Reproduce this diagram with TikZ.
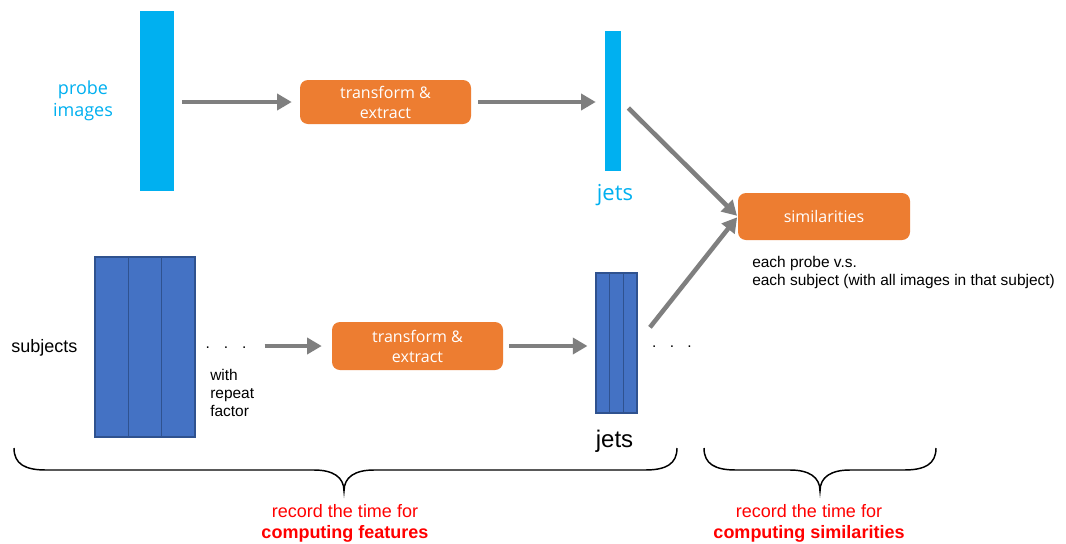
\documentclass[tikz,border=0pt]{standalone}
\usepackage{fontspec}
\usetikzlibrary{arrows.meta,calc}
\newfontfamily\arialfont{Liberation Sans}
\newfontfamily\uifont{Open Sans}
\definecolor{cyanbar}{HTML}{00B0F0}
\definecolor{blockblue}{HTML}{4472C4}
\definecolor{blockedge}{HTML}{2F528F}
\definecolor{boxorange}{HTML}{ED7D31}
\definecolor{arrowgray}{HTML}{7F7F7F}
\definecolor{notered}{HTML}{FF0000}

\begin{document}
\begin{tikzpicture}[x=0.75pt,y=-0.75pt,
  cyanbox/.style={fill=cyanbar, draw=none, inner sep=0pt, minimum width=#1},
  bluebox/.style={fill=blockblue, draw=blockedge, line width=0.8pt, inner sep=0pt},
  procbox/.style={fill=boxorange, draw=none, rounded corners=6pt, inner sep=0pt,
    text=white, align=center, font=\uifont\fontsize{12}{15}\selectfont},
  arr/.style={draw=arrowgray, line width=3.4pt,
    -{Triangle[length=11pt,width=12pt]}},
  txt/.style={inner sep=0pt, font=\arialfont\fontsize{11.6}{13.5}\selectfont},
  rednote/.style={inner sep=0pt, text=notered, align=center,
    font=\arialfont\fontsize{13.5}{15.75}\selectfont},
  bracepath/.style={draw=black, line width=1.1pt}
]
\useasboundingbox (0,0) rectangle (1066,543);
\fill[white] (0,0) rectangle (1066,543);

% upper row: probe images
\node[cyanbox=25.5pt, minimum height=135pt] (probe) at (157,101) {};
\node[inner sep=0pt, text=cyanbar, align=center,
  font=\uifont\fontsize{13.5}{16.5}\selectfont] (probelbl) at (83,101) {probe\\images};
\node[procbox, minimum width=128.25pt, minimum height=33pt] (t1) at (385.5,102) {transform \&\\extract};
\node[cyanbox=12pt, minimum height=105pt] (jets1) at (613,101) {};
\node[inner sep=0pt, anchor=base, text=cyanbar,
  font=\uifont\fontsize{16.5}{19}\selectfont] (jets1lbl) at (615,200) {jets};

% similarity stage
\node[procbox, minimum width=129pt, minimum height=35.25pt] (sim) at (824,216.5) {similarities};
\node[txt, anchor=north west, align=left] (simnote) at (752,256)
  {each probe v.s.\\each subject (with all images in that subject)};

% lower row: subjects
\node[txt, anchor=base west, font=\arialfont\fontsize{13.5}{16}\selectfont] (subjlbl) at (11,352) {subjects};
\node[bluebox, minimum width=75pt, minimum height=135pt] (subj) at (145,347) {};
\draw[blockedge, line width=0.8pt]
  ($(subj.north west)!1/3!(subj.north east)$) -- ($(subj.south west)!1/3!(subj.south east)$)
  ($(subj.north west)!2/3!(subj.north east)$) -- ($(subj.south west)!2/3!(subj.south east)$);
\node[txt, anchor=base] (dots1) at (226,348.5) {.\hspace{10.5pt}.\hspace{10.5pt}.};
\node[txt, anchor=north west, align=left] (repeat) at (210,369) {with\\repeat\\factor};
\node[procbox, minimum width=128.25pt, minimum height=36pt] (t2) at (417.5,346) {transform \&\\extract};
\node[bluebox, minimum width=30.75pt, minimum height=105pt] (jets2) at (616.5,343) {};
\draw[blockedge, line width=0.8pt]
  ($(jets2.north west)!1/3!(jets2.north east)$) -- ($(jets2.south west)!1/3!(jets2.south east)$)
  ($(jets2.north west)!2/3!(jets2.north east)$) -- ($(jets2.south west)!2/3!(jets2.south east)$);
\node[txt, anchor=base, font=\arialfont\fontsize{18}{21}\selectfont] (jets2lbl) at (614.5,447) {jets};
\node[txt, anchor=base] (dots2) at (672,347) {.\hspace{10pt}.\hspace{10pt}.};

% connectors
\draw[arr, shorten <=6pt, shorten >=6pt] (probe.east |- t1.west) -- (t1.west);
\draw[arr, shorten <=5.25pt, shorten >=6.75pt] (t1.east) -- (jets1.west |- t1.east);
\draw[arr, shorten <=7.5pt, shorten >=0.75pt] (jets1.east) -- (sim.west);
\draw[arr, shorten <=15pt, shorten >=0.75pt] (jets2.east) -- (sim.west);
\draw[arr, shorten <=13.5pt, shorten >=7.5pt] (dots1.east |- t2.west) -- (t2.west);
\draw[arr, shorten <=4.5pt, shorten >=6pt] (t2.east) -- (jets2.west |- t2.east);

% timing braces
\draw[bracepath] (14,448) .. controls (14,464) and (25,470) .. (46,470) -- (314,470)
  .. controls (333,470) and (344,477) .. (344,491)
  .. controls (344,477) and (355,470) .. (374,470) -- (645,470)
  .. controls (666,470) and (677,464) .. (677,448);
\draw[bracepath] (704,448) .. controls (704,464) and (715,470) .. (736,470) -- (790,470)
  .. controls (809,470) and (820,477) .. (820,491)
  .. controls (820,477) and (831,470) .. (850,470) -- (904,470)
  .. controls (925,470) and (936,464) .. (936,448);

\node[rednote, anchor=north] (featnote) at (345,504) {record the time for\\\textbf{computing features}};
\node[rednote, anchor=north] (simtime) at (809,504) {record the time for\\\textbf{computing similarities}};
\end{tikzpicture}
\end{document}
